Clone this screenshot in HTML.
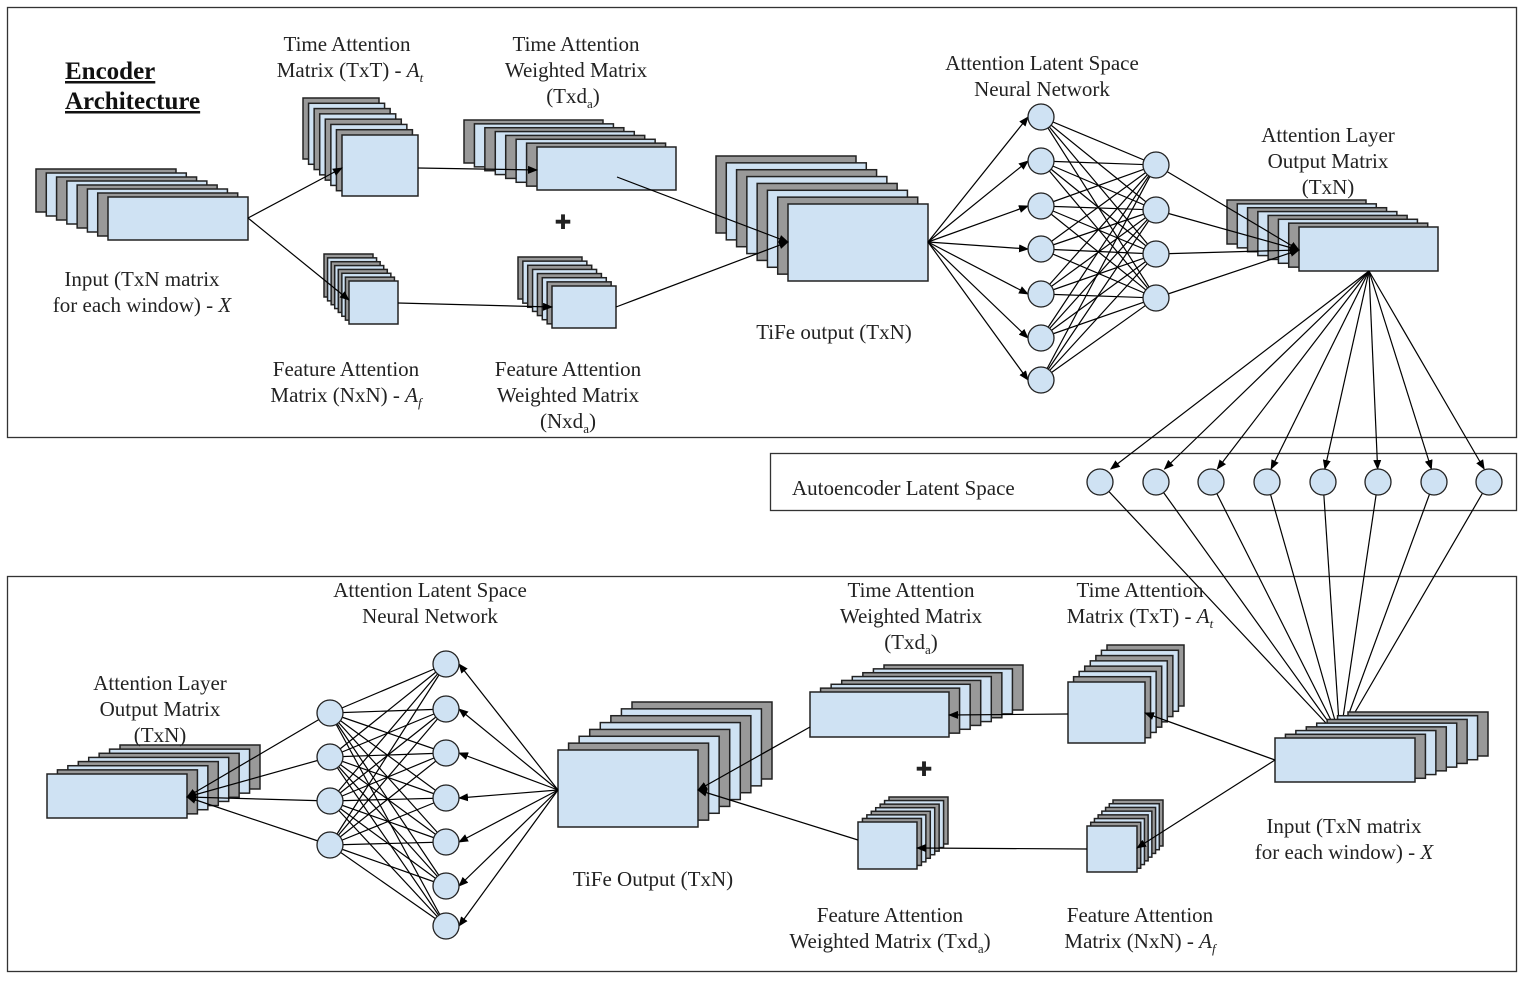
<!DOCTYPE html>
<html><head><meta charset="utf-8"><style>
html,body{margin:0;padding:0;background:#fff;}
svg text{font-family:"Liberation Serif",serif;font-size:21px;fill:#222;}
.c{text-anchor:middle;}
.h{font-size:25px;font-weight:bold;text-decoration:underline;fill:#111;}
</style></head><body>
<svg id="s" width="1529" height="984" xmlns="http://www.w3.org/2000/svg">
<defs><marker id="a" markerWidth="10" markerHeight="8" refX="9" refY="4" orient="auto" markerUnits="userSpaceOnUse"><path d="M0,0 L10,4 L0,8 z" fill="#000"/></marker></defs>
<rect x="7.5" y="7.5" width="1509" height="430" fill="none" stroke="#333" stroke-width="1.3"/>
<rect x="7.5" y="576.5" width="1509" height="395" fill="none" stroke="#333" stroke-width="1.3"/>
<rect x="770.5" y="453.5" width="746" height="57" fill="none" stroke="#333" stroke-width="1.3"/>
<g id="g"></g>
<text x="65" y="79" class="h">Encoder</text>
<text x="65" y="109" class="h">Architecture</text>
<text x="347" y="51" class="c">Time Attention</text>
<text x="350" y="77" class="c">Matrix (TxT) - <tspan font-style="italic">A</tspan><tspan font-style="italic" font-size="13" dy="5">t</tspan></text>
<text x="576" y="51" class="c">Time Attention</text>
<text x="576" y="77" class="c">Weighted Matrix</text>
<text x="573" y="103" class="c">(Txd<tspan font-size="13" dy="5">a</tspan><tspan dy="-5">)</tspan></text>
<text x="142" y="286" class="c">Input (TxN matrix</text>
<text x="142" y="312" class="c">for each window) - <tspan font-style="italic">X</tspan></text>
<text x="346" y="376" class="c">Feature Attention</text>
<text x="346" y="402" class="c">Matrix (NxN) - <tspan font-style="italic">A</tspan><tspan font-style="italic" font-size="13" dy="5">f</tspan></text>
<text x="568" y="376" class="c">Feature Attention</text>
<text x="568" y="402" class="c">Weighted Matrix</text>
<text x="568" y="428" class="c">(Nxd<tspan font-size="13" dy="5">a</tspan><tspan dy="-5">)</tspan></text>
<text x="834" y="339" class="c">TiFe output (TxN)</text>
<text x="1042" y="70" class="c">Attention Latent Space</text>
<text x="1042" y="96" class="c">Neural Network</text>
<text x="1328" y="142" class="c">Attention Layer</text>
<text x="1328" y="168" class="c">Output Matrix</text>
<text x="1328" y="194" class="c">(TxN)</text>
<text x="792" y="495">Autoencoder Latent Space</text>
<text x="430" y="597" class="c">Attention Latent Space</text>
<text x="430" y="623" class="c">Neural Network</text>
<text x="911" y="597" class="c">Time Attention</text>
<text x="911" y="623" class="c">Weighted Matrix</text>
<text x="911" y="649" class="c">(Txd<tspan font-size="13" dy="5">a</tspan><tspan dy="-5">)</tspan></text>
<text x="1140" y="597" class="c">Time Attention</text>
<text x="1140" y="623" class="c">Matrix (TxT) - <tspan font-style="italic">A</tspan><tspan font-style="italic" font-size="13" dy="5">t</tspan></text>
<text x="160" y="690" class="c">Attention Layer</text>
<text x="160" y="716" class="c">Output Matrix</text>
<text x="160" y="742" class="c">(TxN)</text>
<text x="653" y="886" class="c">TiFe Output (TxN)</text>
<text x="1344" y="833" class="c">Input (TxN matrix</text>
<text x="1344" y="859" class="c">for each window) - <tspan font-style="italic">X</tspan></text>
<text x="890" y="922" class="c">Feature Attention</text>
<text x="890" y="948" class="c">Weighted Matrix (Txd<tspan font-size="13" dy="5">a</tspan><tspan dy="-5">)</tspan></text>
<text x="1140" y="922" class="c">Feature Attention</text>
<text x="1140" y="948" class="c">Matrix (NxN) - <tspan font-style="italic">A</tspan><tspan font-style="italic" font-size="13" dy="5">f</tspan></text>
<text x="563" y="229" class="c" style="font-size:20px">✚</text>
<text x="924" y="776" class="c" style="font-size:20px">✚</text>
</svg>
<script>
var g=document.getElementById('g'),NS='http://www.w3.org/2000/svg';
function el(t,o){var e=document.createElementNS(NS,t);for(var k in o)e.setAttribute(k,o[k]);g.appendChild(e);return e;}
function stack(x,y,w,h,n,ox,oy,dir){
 var dx=ox/n,dy=oy/n;
 for(var k=n;k>=1;k--){el('rect',{x:x+dir*k*dx,y:y-k*dy,width:w,height:h,fill:(k%2?'#999':'#cfe2f3'),stroke:'#222','stroke-width':1.5});}
 el('rect',{x:x,y:y,width:w,height:h,fill:'#cfe2f3',stroke:'#222','stroke-width':1.5});
}
function ln(x1,y1,x2,y2,ar){var o={x1:x1,y1:y1,x2:x2,y2:y2,stroke:'#000','stroke-width':1.2};if(ar)o['marker-end']='url(#a)';el('line',o);}
function node(x,y){el('circle',{cx:x,cy:y,r:13,fill:'#cfe2f3',stroke:'#222','stroke-width':1.3});}
// encoder stacks
stack(108,197,140,43,7,72,28,-1);
stack(342,135,76,61,7,39,37,-1);
stack(349,281,49,43,7,25,27,-1);
stack(537,147,139,43,7,73,27,-1);
stack(552,286,64,42,7,34,29,-1);
stack(788,204,140,77,7,72,48,-1);
stack(1299,227,139,44,7,72,27,-1);
ln(248,218,342,168,1);ln(248,218,349,300,1);
ln(418,168,537,170,1);ln(398,303,552,307,1);
ln(617,177,788,242,1);ln(616,307,788,242,1);
var L=[117,161,206,249,294,338,380],R=[165,210,254,298];
L.forEach(function(y){ln(928,242,1028,y,1);R.forEach(function(y2){ln(1041,y,1156,y2);});});
R.forEach(function(y){ln(1156,y,1299,250,1);});
L.forEach(function(y){node(1041,y);});R.forEach(function(y){node(1156,y);});
// autoencoder
var A=[1100,1156,1211,1267,1323,1378,1434,1489];
A.forEach(function(x){ln(1369,271,x+(1369-x)*0.04,469,1);});
A.forEach(function(x){ln(x,482,1340,738,1);});
A.forEach(function(x){node(x,482);});
// decoder stacks
stack(1275,738,140,44,7,73,26,1);
stack(1068,682,77,61,7,39,37,1);
stack(1087,826,50,46,7,26,26,1);
stack(810,692,139,45,7,74,27,1);
stack(858,822,59,47,7,31,25,1);
stack(558,750,140,77,7,74,48,1);
stack(47,774,140,44,7,73,29,1);
ln(1275,760,1145,713,1);ln(1275,760,1137,848,1);
ln(1068,714,949,715,1);ln(1087,849,917,848,1);
ln(810,727,698,790,1);ln(858,840,698,790,1);
var DR=[664,709,753,798,842,886,926],DL=[713,757,801,845];
DR.forEach(function(y){ln(558,790,459,y,1);DL.forEach(function(y2){ln(446,y,330,y2);});});
DL.forEach(function(y){ln(330,y,187,797,1);});
DR.forEach(function(y){node(446,y);});DL.forEach(function(y){node(330,y);});
</script>
</body></html>
